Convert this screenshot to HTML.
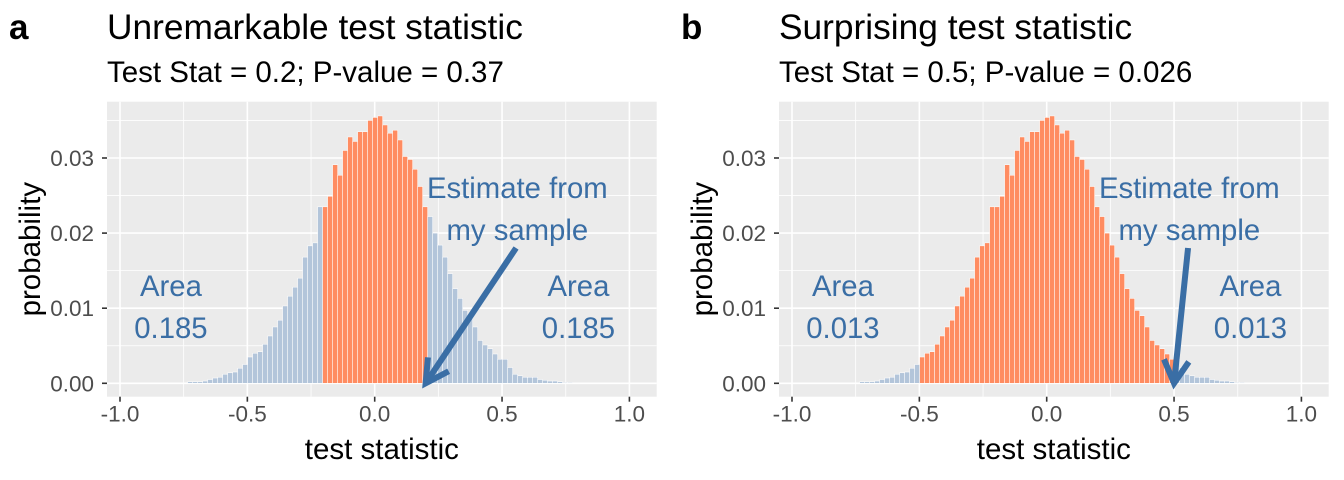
<!DOCTYPE html>
<html><head><meta charset="utf-8">
<style>
body{margin:0;background:#fff;}
svg{display:block;font-family:"Liberation Sans",Arial,sans-serif;}
</style></head>
<body>
<svg id="chart" width="1344" height="480" viewBox="0 0 1344 480"></svg>
<script>
// Shared sampling-distribution histogram data (probability per bin)
const binStart = -0.7345;
const binWidth = 0.01963;
const probs = [0.0002,0.0002,0.0002,0.0003,0.0005,0.0007,0.0008,0.0012,0.0014,0.0015,0.0020,0.0025,0.0035,0.0040,0.0042,0.0052,0.0063,0.0075,0.0084,0.0103,0.0116,0.0128,0.0140,0.0168,0.0183,0.0187,0.0235,
0.0235,0.0249,0.0291,0.0277,0.0310,0.0328,0.0322,0.0335,0.0335,0.0350,0.0354,0.0356,0.0344,0.0333,0.0337,0.0324,0.0302,0.0298,0.0285,0.0262,0.0235,
0.0222,0.0200,0.0184,0.0168,0.0146,0.0126,0.0113,0.0097,0.0090,0.0075,0.0057,0.0051,0.0046,0.0039,0.0032,0.0032,0.0021,0.0012,0.0010,0.0008,0.0008,0.0008,0.0005,0.0004,0.0003,0.0003,0.0002,0.0001,0.0001];
const xTicks = [-1.0,-0.5,0.0,0.5,1.0];
const xTickLabels = ["-1.0","-0.5","0.0","0.5","1.0"];
const yTicks = [0.00,0.01,0.02,0.03];
const yTickLabels = ["0.00","0.01","0.02","0.03"];
const panelTags = ["a","b"];
const panelTitles = ["Unremarkable test statistic","Surprising test statistic"];
const panelSubtitles = ["Test Stat = 0.2; P-value = 0.37","Test Stat = 0.5; P-value = 0.026"];
const testStats = [0.2,0.5];
const areas = ["0.185","0.013"];

const NS="http://www.w3.org/2000/svg";
const svg=document.getElementById('chart');
function mk(tag,attrs,parent){const e=document.createElementNS(NS,tag);for(const k in attrs)e.setAttribute(k,attrs[k]);(parent||svg).appendChild(e);return e;}
const BLUE="#3a6ea5";

for(let p=0;p<2;p++){
  const off=p*672;
  const L=107+off,R=656.7+off,T=101.7,B=396.7;
  const x0=374.7+off, xs=254.7, y0=383.3, ys=7510;
  const X=v=>x0+v*xs, Y=v=>y0-v*ys;
  const g=mk('g',{});
  
  
  let t=mk('text',{x:9+off,y:39,'font-size':35,'font-weight':'bold',fill:'#000'},g);t.textContent=panelTags[p];
  
  t=mk('text',{x:L,y:39,'font-size':35.3,fill:'#000'},g);t.textContent=panelTitles[p];
  
  t=mk('text',{x:L,y:82,'font-size':29.5,fill:'#000'},g);t.textContent=panelSubtitles[p];
  
  const bg=mk('rect',{x:L,y:T,width:R-L,height:B-T,fill:'#ebebeb'},g);
  
  for(let i=0;i<xTicks.length-1;i++){const v=(xTicks[i]+xTicks[i+1])/2;mk('line',{x1:X(v),x2:X(v),y1:T,y2:B,stroke:'#fff','stroke-width':0.8},g);}
  for(let v=-0.005;v<=0.04;v+=0.01){const yy=Y(v);if(yy>T&&yy<B)mk('line',{x1:L,x2:R,y1:yy,y2:yy,stroke:'#fff','stroke-width':0.8},g);}
  xTicks.forEach((v,i)=>{
    mk('line',{x1:X(v),x2:X(v),y1:T,y2:B,stroke:'#fff','stroke-width':1.6},g);
    mk('line',{x1:X(v),x2:X(v),y1:B,y2:B+5,stroke:'#333','stroke-width':1.6},g);
    const lb=mk('text',{x:X(v),y:B+25,'font-size':22.5,fill:'#4d4d4d','text-anchor':'middle'},g);lb.textContent=xTickLabels[i];
    
  });
  yTicks.forEach((v,i)=>{
    mk('line',{x1:L,x2:R,y1:Y(v),y2:Y(v),stroke:'#fff','stroke-width':1.6},g);
    mk('line',{x1:L-5,x2:L,y1:Y(v),y2:Y(v),stroke:'#333','stroke-width':1.6},g);
    const lb=mk('text',{x:L-13,y:Y(v)+8,'font-size':22.5,fill:'#4d4d4d','text-anchor':'end'},g);lb.textContent=yTickLabels[i];
    
  });
  probs.forEach((pr,k)=>{
    const a=binStart+k*binWidth, c=a+binWidth/2;
    const inside=Math.abs(c)<=testStats[p];
    const r=mk('rect',{x:X(a),y:Y(pr),width:binWidth*xs,height:Y(0)-Y(pr),fill:inside?'#ff8c61':'#b3c5da',stroke:'#fff','stroke-width':0.5},g);
    
    
  });
  t=mk('text',{x:(L+R)/2,y:459,'font-size':29.5,fill:'#000','text-anchor':'middle'},g);t.textContent='test statistic';
  
  t=mk('text',{x:0,y:0,'font-size':29.5,fill:'#000','text-anchor':'middle',transform:`translate(${40+off},${(T+B)/2}) rotate(-90)`},g);t.textContent='probability';
  
  const ann=[["Estimate from",X(0.56),198],["my sample",X(0.56),240],["Area",X(-0.8),296],[areas[p],X(-0.8),338],["Area",X(0.8),296],[areas[p],X(0.8),338]];
  ann.forEach(a=>{const e=mk('text',{x:a[1],y:a[2],'font-size':29.3,fill:BLUE,'text-anchor':'middle'},g);e.textContent=a[0];
    });
  const sx=X(0.555), sy=248, ex=X(testStats[p]), ey=Y(0);
  const ang=Math.atan2(ey-sy,ex-sx), hl=26, ha=0.5;
  const ar=mk('g',{stroke:BLUE,'stroke-width':6,fill:'none','stroke-linecap':'butt'},g);
  
  mk('line',{x1:sx,y1:sy,x2:ex,y2:ey},ar);
  mk('polyline',{points:`${ex-hl*Math.cos(ang-ha)},${ey-hl*Math.sin(ang-ha)} ${ex},${ey} ${ex-hl*Math.cos(ang+ha)},${ey-hl*Math.sin(ang+ha)}`},ar);
}
</script>
</body></html>
